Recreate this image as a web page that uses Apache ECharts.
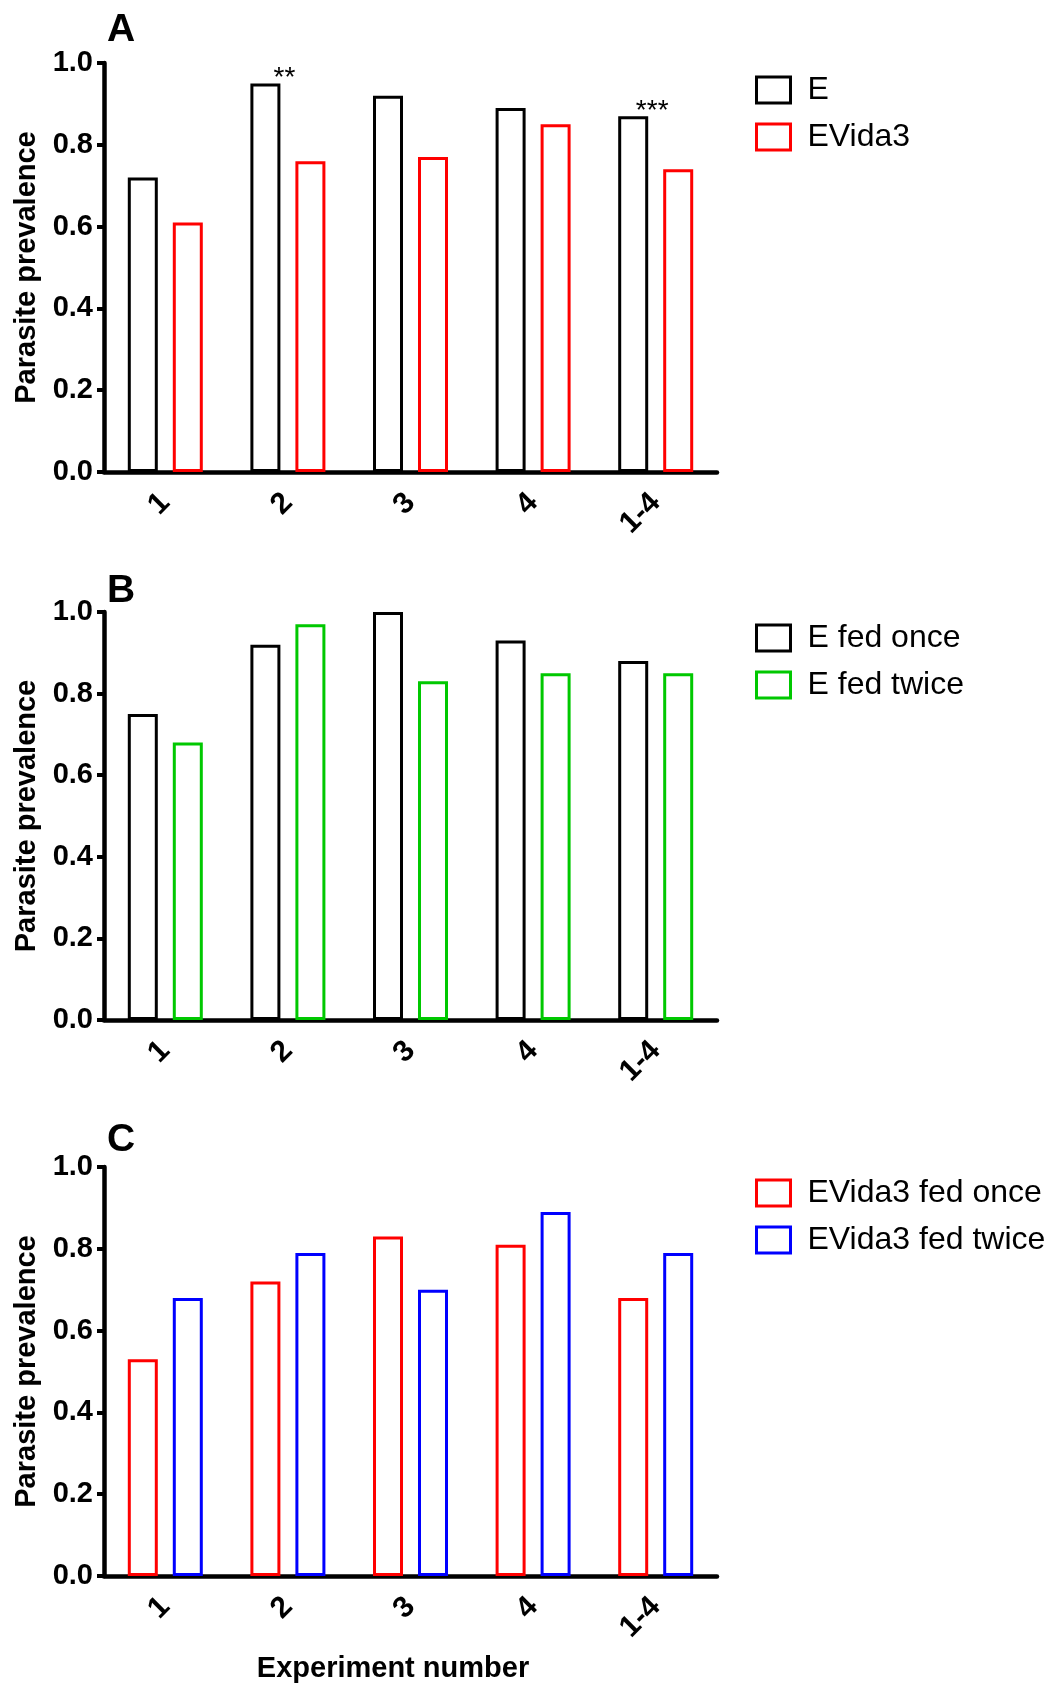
<!DOCTYPE html>
<html>
<head>
<meta charset="utf-8">
<script src="https://cdn.jsdelivr.net/npm/echarts@6/dist/echarts.min.js"></script>
<style>
  html, body { margin: 0; padding: 0; background: #fff; }
  #chart { width: 1053px; height: 1686px; }
</style>
</head>
<body>
<div id="chart"></div>
<script>
// Experiments on the category axis
const experiments = ['1', '2', '3', '4', '1-4'];

// Panel A: E vs EVida3
const prevE = [0.72, 0.95, 0.92, 0.89, 0.87];
const prevEVida3 = [0.61, 0.76, 0.77, 0.85, 0.74];
const significanceA = ['', '**', '', '', '***'];

// Panel B: E fed once vs fed twice
const prevEOnce = [0.75, 0.92, 1.00, 0.93, 0.88];
const prevETwice = [0.68, 0.97, 0.83, 0.85, 0.85];

// Panel C: EVida3 fed once vs fed twice
const prevEVida3Once = [0.53, 0.72, 0.83, 0.81, 0.68];
const prevEVida3Twice = [0.68, 0.79, 0.70, 0.89, 0.79];

const FONT = '"Liberation Sans", Arial, Helvetica, sans-serif';

const panels = [
  { letter: 'A', top: 63, height: 409, letterY: 30,
    legendTop: 69,
    series: [
      { name: 'E', data: prevE, color: '#000000', marks: significanceA },
      { name: 'EVida3', data: prevEVida3, color: '#ff0000' }
    ] },
  { letter: 'B', top: 612, height: 408, letterY: 591,
    legendTop: 617,
    series: [
      { name: 'E fed once', data: prevEOnce, color: '#000000' },
      { name: 'E fed twice', data: prevETwice, color: '#00c800' }
    ] },
  { letter: 'C', top: 1167, height: 409, letterY: 1140,
    legendTop: 1172,
    series: [
      { name: 'EVida3 fed once', data: prevEVida3Once, color: '#ff0000' },
      { name: 'EVida3 fed twice', data: prevEVida3Twice, color: '#0000ff' }
    ] }
];

const grids = [], xAxes = [], yAxes = [], series = [], legends = [], graphics = [];

panels.forEach((p, i) => {
  grids.push({ left: 104, top: p.top, width: 613, height: p.height });

  xAxes.push({
    type: 'category',
    gridIndex: i,
    data: experiments,
    axisLine: { lineStyle: { color: '#000', width: 4.5 } },
    axisTick: { alignWithLabel: true, length: 8, lineStyle: { color: '#000', width: 4 } },
    axisLabel: { rotate: 45, margin: 26, fontSize: 30, fontWeight: 'bold', color: '#000', fontFamily: FONT },
    splitLine: { show: false }
  });

  yAxes.push({
    type: 'value',
    gridIndex: i,
    min: 0, max: 1, interval: 0.2,
    name: 'Parasite prevalence',
    nameLocation: 'middle',
    nameGap: 63,
    nameTextStyle: { fontSize: 29, fontWeight: 'bold', color: '#000', fontFamily: FONT },
    axisLine: { show: true, lineStyle: { color: '#000', width: 4.5 } },
    axisTick: { show: true, length: 7, lineStyle: { color: '#000', width: 4 } },
    axisLabel: { formatter: v => v.toFixed(1), margin: 11, fontSize: 29, fontWeight: 'bold', color: '#000', fontFamily: FONT },
    splitLine: { show: false }
  });

  p.series.forEach(s => {
    series.push({
      type: 'bar',
      name: s.name,
      xAxisIndex: i,
      yAxisIndex: i,
      barWidth: 30,
      barGap: '50%',
      itemStyle: { color: '#ffffff', borderColor: s.color, borderWidth: 3 },
      emphasis: { disabled: true },
      data: s.data.map((v, k) => {
        const item = { value: v };
        if (s.marks && s.marks[k]) {
          item.label = {
            show: true, formatter: s.marks[k], position: 'top', distance: 0,
            offset: [19, 9], fontSize: 28, color: '#000', fontFamily: FONT
          };
        }
        return item;
      })
    });
  });

  legends.push({
    data: p.series.map(s => s.name),
    orient: 'vertical',
    left: 750,
    top: p.legendTop,
    icon: 'rect',
    itemWidth: 34,
    itemHeight: 26,
    itemGap: 15,
    selectedMode: false,
    itemStyle: { borderWidth: 3 },
    textStyle: { fontSize: 32, lineHeight: 32, color: '#000', fontFamily: FONT, padding: [0, 0, 0, 12] }
  });

  graphics.push({
    type: 'text', x: 107, y: p.letterY,
    style: { text: p.letter, font: 'bold 39px ' + FONT, fill: '#000', align: 'left', verticalAlign: 'middle' }
  });
});

graphics.push({
  type: 'text', x: 393, y: 1669,
  style: { text: 'Experiment number', font: 'bold 29px ' + FONT, fill: '#000', align: 'center', verticalAlign: 'middle' }
});

const chart = echarts.init(document.getElementById('chart'), null, { renderer: 'canvas' });
chart.setOption({
  animation: false,
  backgroundColor: '#ffffff',
  grid: grids,
  xAxis: xAxes,
  yAxis: yAxes,
  legend: legends,
  series: series,
  graphic: graphics
});
</script>
</body>
</html>
